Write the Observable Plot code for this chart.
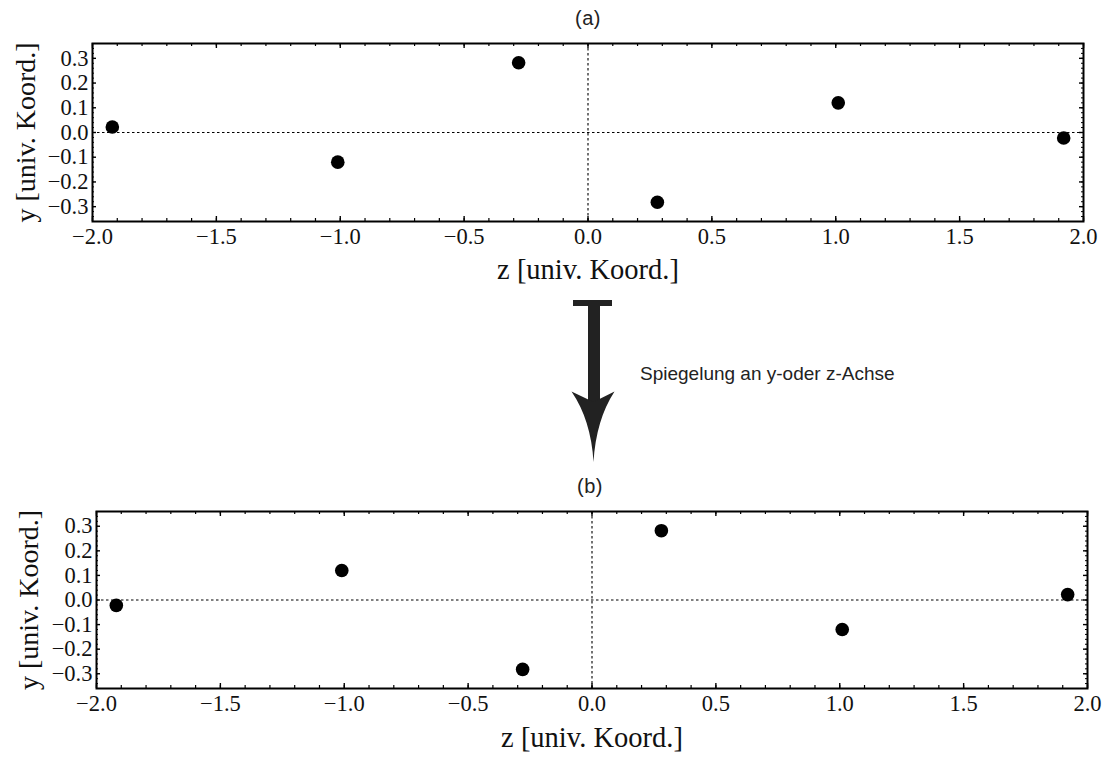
<!DOCTYPE html>
<html>
<head>
<meta charset="utf-8">
<script src="https://cdn.jsdelivr.net/npm/d3@7"></script>
<script src="https://cdn.jsdelivr.net/npm/@observablehq/plot@0.6"></script>
<style>
  html, body { margin: 0; padding: 0; background: #fff; }
  #wrap { position: relative; width: 1107px; height: 758px; overflow: hidden; background: #fff; }
  .panel { position: absolute; left: 0; }
  .ttl { position: absolute; font-family: "Liberation Sans", Arial, sans-serif; font-size: 20px; color: #222; transform: translate(-50%, -50%); white-space: nowrap; z-index: 5; letter-spacing: 0.5px; }
  #note { position: absolute; left: 640px; top: 374px; transform: translateY(-50%); font-family: "Liberation Sans", Arial, sans-serif; font-size: 19px; color: #222; white-space: nowrap; z-index: 5; }
  #arrow { position: absolute; left: 0; top: 0; z-index: 4; }
</style>
</head>
<body>
<div id="wrap">
  <div id="top" class="panel" style="top:0px;"></div>
  <div id="bottom" class="panel" style="top:458px;"></div>
  <svg id="arrow" width="1107" height="758">
    <rect x="573" y="300" width="39" height="6" fill="#222"/>
    <rect x="588" y="303" width="12" height="100" fill="#222"/>
    <path d="M593.5,462 Q591,420 571.5,391.5 L593.5,402 L614.5,391.5 Q596,420 593.5,462 Z" fill="#222"/>
  </svg>
  <div class="ttl" style="left:588px; top:18px;">(a)</div>
  <div id="note">Spiegelung an y-oder z-Achse</div>
  <div class="ttl" style="left:590px; top:486px;">(b)</div>
</div>
<script>
// ---- data ----
const zA = [-1.92, -1.01, -0.28, 0.28, 1.01, 1.92];
const yA = [0.022, -0.12, 0.282, -0.282, 0.12, -0.022];
const zB = [-1.92, -1.01, -0.28, 0.28, 1.01, 1.92];
const yB = [-0.022, 0.12, -0.282, 0.282, -0.12, 0.022];

const xTicks = [-2, -1.5, -1, -0.5, 0, 0.5, 1, 1.5, 2];
const xMinorTicks = d3.range(-20, 21).map(i => i / 10);
const yTicks = [-0.3, -0.2, -0.1, 0, 0.1, 0.2, 0.3];
const yMinorTicks = d3.range(-18, 19).map(i => i / 50);

const xLabel = "z [univ. Koord.]";
const yLabel = "y [univ. Koord.]";

const fmt = d3.format(".1f");

function panel(z, y, o) {
  const W = 1107, H = o.height;
  const fw = W - o.ml - o.mr, fh = H - o.mt - o.mb;
  const pts = z.map((v, i) => ({z: v, y: y[i]}));
  return Plot.plot({
    width: W, height: H,
    marginLeft: o.ml, marginRight: o.mr, marginTop: o.mt, marginBottom: o.mb,
    style: {fontFamily: "'Liberation Serif', 'Times New Roman', serif", fontSize: "22.5px", background: "transparent", overflow: "visible"},
    x: {domain: [-2, 2]},
    y: {domain: [-0.36, 0.36]},
    marks: [
      Plot.ruleY([0], {stroke: "black", strokeWidth: 1.1, strokeDasharray: "2.5,2.5"}),
      Plot.ruleX([0], {stroke: "black", strokeWidth: 1.1, strokeDasharray: "2.5,2.5"}),
      // frame ticks (inside)
      Plot.ruleX(xMinorTicks, {x: d => d, insetTop: fh - 3, stroke: "black", strokeWidth: 1.2}),
      Plot.ruleX(xMinorTicks, {x: d => d, insetBottom: fh - 3, stroke: "black", strokeWidth: 1.2}),
      Plot.ruleX(xTicks, {x: d => d, insetTop: fh - 5, stroke: "black", strokeWidth: 1.4}),
      Plot.ruleX(xTicks, {x: d => d, insetBottom: fh - 5, stroke: "black", strokeWidth: 1.4}),
      Plot.ruleY(yMinorTicks, {y: d => d, insetRight: fw - 2, stroke: "black", strokeWidth: 1}),
      Plot.ruleY(yMinorTicks, {y: d => d, insetLeft: fw - 2, stroke: "black", strokeWidth: 1}),
      Plot.ruleY(yTicks, {y: d => d, insetRight: fw - 4, stroke: "black", strokeWidth: 1.4}),
      Plot.ruleY(yTicks, {y: d => d, insetLeft: fw - 4, stroke: "black", strokeWidth: 1.4}),
      Plot.frame({stroke: "black", strokeWidth: 2}),
      Plot.axisX({ticks: xTicks, tickFormat: fmt, tickSize: 0, tickPadding: 7, fontSize: 22.5, label: null, fill: "#111"}),
      Plot.axisY({ticks: yTicks, tickFormat: fmt, tickSize: 0, tickPadding: 4, fontSize: 22.5, label: null, fill: "#111"}),
      Plot.text([xLabel], {frameAnchor: "bottom", dy: o.xlabDy, fontSize: 28.5, fill: "#111"}),
      Plot.text([yLabel], {frameAnchor: "left", textAnchor: "middle", dx: o.ylabDx, rotate: -90, fontSize: 28, fill: "#111"}),
      Plot.dot(pts, {x: "z", y: "y", r: 6.8, fill: "black"})
    ]
  });
}

document.getElementById("top").appendChild(
  panel(zA, yA, {height: 300, ml: 92, mr: 24, mt: 43, mb: 79, xlabDy: 57, ylabDx: -66})
);
document.getElementById("bottom").appendChild(
  panel(zB, yB, {height: 300, ml: 96, mr: 20, mt: 53, mb: 70, xlabDy: 58, ylabDx: -67})
);
</script>
</body>
</html>
